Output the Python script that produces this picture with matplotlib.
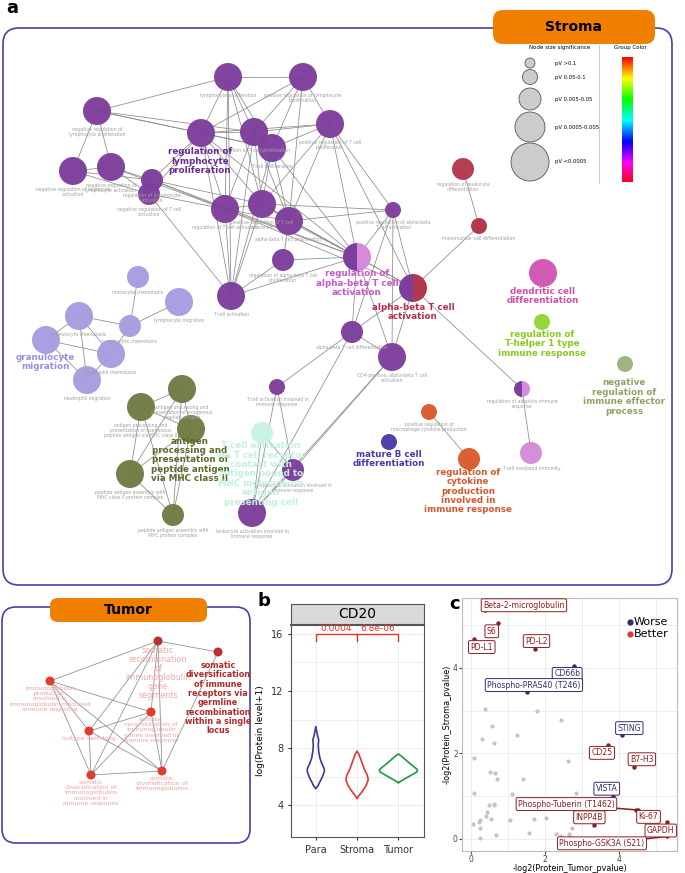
import numpy as np
import matplotlib
matplotlib.use("Agg")
import matplotlib.pyplot as plt
from matplotlib.patches import Circle, Wedge, FancyBboxPatch

plt.rcParams['font.family'] = ['DejaVu Sans']

W, H = 685, 873

# ---------------- panel a: stroma network ----------------
node_names = [
    'lymphocyte proliferation', 'positive regulation of lymphocyte\nproliferation',
    'negative regulation of\nlymphocyte proliferation', '',
    'regulation of T cell proliferation', 'T cell proliferation',
    'positive regulation of T cell\nproliferation', 'negative regulation of leukocyte\nactivation',
    'negative regulation of\nlymphocyte activation', 'regulation of lymphocyte\nactivation',
    'negative regulation of T cell\nactivation', 'regulation of T cell activation',
    'positive regulation of T cell\nactivation', 'alpha-beta T cell proliferation',
    'regulation of alpha-beta T cell\nproliferation', 'T cell activation',
    'positive regulation of alpha-beta\nT cell activation', '', '',
    'alpha-beta T cell differentiation', 'CD4-positive, alpha-beta T cell\nactivation',
    'T cell activation involved in\nimmune response', 'lymphocyte activation involved in\nimmune response',
    'leukocyte activation involved in\nimmune response', 'mononuclear cell differentiation',
    'regulation of leukocyte\ndifferentiation', 'regulation of adaptive immune\nresponse',
    'T cell mediated immunity', 'positive regulation of\nmacrophage cytokine production',
    '', '', '', '', '', '',
    'monocyte chemotaxis', 'lymphocyte migration', 'granulocyte chemotaxis',
    'lymphocyte chemotaxis', '', 'neutrophil chemotaxis', 'neutrophil migration',
    'antigen processing and\npresentation of exogenous\npeptide antigen',
    'antigen processing and\npresentation of exogenous\npeptide antigen via MHC class II',
    '', 'peptide antigen assembly with\nMHC class II protein complex',
    'peptide antigen assembly with\nMHC protein complex',
]
node_x = [228, 303, 97, 201, 254, 272, 330, 73, 111, 152, 149, 225, 262, 289, 283, 231,
          393, 357, 413, 352, 392, 277, 293, 252, 479, 463, 522, 531, 429, 469, 543, 542,
          625, 389, 262,
          138, 179, 79, 130, 46, 111, 87,
          182, 141, 191, 130, 173]
node_y = [77, 77, 111, 133, 132, 148, 124, 171, 167, 180, 194, 209, 204, 221, 260, 296,
          210, 257, 288, 332, 357, 387, 470, 513, 226, 169, 389, 453, 412, 459, 273, 322,
          364, 442, 433,
          277, 302, 316, 326, 340, 354, 380,
          389, 407, 429, 474, 515]
node_r = [14, 14, 14, 14, 14, 14, 14, 14, 14, 11, 11, 14, 14, 14, 11, 14,
          8, 14, 14, 11, 14, 8, 11, 14, 8, 11, 8, 11, 8, 11, 14, 8,
          8, 8, 11,
          11, 14, 14, 11, 14, 14, 14,
          14, 14, 14, 14, 11]
PUR = '#7d3f9d'
node_col = [PUR] * 24 + ['#b3384f'] * 2 + [PUR, '#d48bd9', '#d95a2b', '#d95a2b', '#cf55b2',
            '#93d431', '#9cb27c', '#4b3aa6', '#c8f3e4'] + ['#a79ce0'] * 7 + ['#6f7c44'] * 5
# split nodes: index -> right-half colour
split_right = {17: '#d48bd9', 18: '#b3384f', 24: '#b3384f', 26: '#d48bd9'}

edges = [(0, 1), (0, 3), (0, 4), (0, 11), (0, 12), (0, 5), (1, 3), (1, 5), (1, 6), (1, 4),
         (1, 13), (2, 0), (2, 3), (2, 4), (2, 7), (2, 8), (2, 5), (3, 4), (3, 5), (3, 6),
         (3, 9), (3, 10), (3, 11), (3, 12), (3, 15), (4, 5), (4, 6), (4, 11), (4, 12),
         (4, 13), (4, 15), (5, 6), (5, 12), (5, 13), (5, 15), (5, 17), (6, 12), (6, 13),
         (6, 16), (6, 17), (6, 18), (7, 8), (7, 9), (7, 10), (8, 9), (8, 10), (8, 11),
         (9, 10), (9, 11), (9, 12), (9, 17), (10, 11), (10, 15), (11, 12), (11, 13),
         (11, 15), (11, 17), (12, 13), (12, 15), (12, 16), (12, 17), (13, 14), (13, 16),
         (13, 17), (14, 15), (14, 17), (15, 17), (16, 17), (16, 18), (16, 19), (16, 20),
         (17, 18), (17, 19), (17, 20), (18, 19), (18, 20), (18, 24), (18, 26), (19, 20),
         (19, 21), (19, 23), (20, 23), (21, 22), (21, 23), (22, 23), (22, 20), (24, 25),
         (26, 27), (28, 29), (3, 17), (12, 18), (11, 18), (0, 15), (34, 23), (34, 22),
         (35, 38), (36, 38), (37, 38), (37, 39), (37, 40), (37, 41), (39, 40), (39, 41),
         (40, 41), (38, 40), (42, 43), (42, 44), (42, 45), (43, 44), (43, 45), (43, 46),
         (44, 45), (44, 46), (45, 46), (42, 46)]

bold_text = ['regulation of\nlymphocyte\nproliferation', 'regulation of\nalpha-beta T cell\nactivation',
             'alpha-beta T cell\nactivation', 'dendritic cell\ndifferentiation',
             'regulation of\nT-helper 1 type\nimmune response',
             'negative\nregulation of\nimmune effector\nprocess', 'granulocyte\nmigration',
             'antigen\nprocessing and\npresentation of\npeptide antigen\nvia MHC class II',
             'T cell activation\nvia T cell receptor\ncontact with\nantigen bound to\nMHC molecule on\nantigen\npresenting cell',
             'mature B cell\ndifferentiation',
             'regulation of\ncytokine\nproduction\ninvolved in\nimmune response']
bold_x = [200, 357, 413, 543, 542, 624, 45, 190, 261, 389, 468]
bold_y = [161, 283, 312, 296, 344, 397, 362, 460, 474, 459, 491]
bold_col = ['#6a2a92', '#c957cc', '#b3304f', '#cf4fb0', '#86cc1e', '#8ea466', '#9d8fe0',
            '#5b6a2c', '#c2f1df', '#4b3aa6', '#d9572b']

leg_labels = ['pV >0.1', 'pV 0.05-0.1', 'pV 0.005-0.05', 'pV 0.0005-0.005', 'pV <0.0005']
leg_r = [5, 7.5, 11, 15, 19]
leg_y = [63, 77, 99, 127, 162]

# ---------------- tumor network ----------------
t_names = ['somatic\nrecombination\nof\nimmunoglobulin\ngene\nsegments',
           'somatic\ndiversification\nof immune\nreceptors via\ngermline\nrecombination\nwithin a single\nlocus',
           'immunoglobulin\nproduction\ninvolved in\nimmunoglobulin-mediated\nimmune response',
           'somatic\nrecombination of\nimmunoglobulin\ngenes involved in\nimmune response',
           'isotype switching',
           'somatic\ndiversification of\nimmunoglobulins\ninvolved in\nimmune response',
           'somatic\ndiversification of\nimmunoglobulins']
t_x = [158, 218, 50, 151, 89, 91, 162]
t_y = [641, 652, 681, 712, 731, 775, 771]
t_col = ['#b83232', '#b83232', '#e03c31', '#e03c31', '#e03c31', '#e03c31', '#e03c31']
t_edges = [(0, 2), (0, 1), (0, 4), (0, 3), (0, 6), (0, 5), (2, 3), (2, 4), (2, 5), (2, 6),
           (4, 3), (4, 5), (4, 6), (3, 5), (3, 6), (5, 6), (1, 6)]

# ---------------- panel b: violins ----------------
groups = ['Para', 'Stroma', 'Tumor']
group_col = ['#3b3a98', '#e8352e', '#1f9a45']
para_lvl = [5.2, 5.35, 5.6, 6.0, 6.4, 6.6, 6.9, 7.3, 7.8, 8.2, 8.6, 8.9, 9.2, 9.5]
para_hw = [0.0, 0.05, 0.09, 0.16, 0.21, 0.2, 0.15, 0.1, 0.07, 0.06, 0.07, 0.04, 0.02, 0.0]
str_lvl = [4.5, 4.7, 5.0, 5.4, 5.8, 6.1, 6.5, 6.9, 7.3, 7.6, 7.8]
str_hw = [0.0, 0.05, 0.13, 0.22, 0.27, 0.25, 0.18, 0.13, 0.08, 0.04, 0.0]
tum_lvl = [5.6, 5.8, 6.1, 6.35, 6.5, 6.7, 6.95, 7.2, 7.45, 7.6]
tum_hw = [0.0, 0.12, 0.3, 0.45, 0.46, 0.38, 0.27, 0.17, 0.07, 0.0]
pvals = ['0.0004', '6.8e-06']

# ---------------- panel c: scatter ----------------
gray_x = [0.39, 1.80, 2.43, 0.57, 1.24, 0.30, 0.63, 0.09, 2.64, 0.52, 0.65, 0.70, 1.41, 0.10,
          1.11, 2.84, 0.63, 0.50, 0.63, 0.43, 0.41, 0.55, 0.26, 0.22, 0.05, 0.24, 0.68, 0.25,
          1.06, 1.72, 2.04, 1.59, 2.31, 2.43, 2.67, 2.67, 2.75, 2.68]
gray_y = [3.05, 2.99, 2.79, 2.64, 2.43, 2.33, 2.25, 1.88, 1.83, 1.57, 1.53, 1.40, 1.39, 1.06,
          1.05, 1.07, 0.81, 0.78, 0.79, 0.62, 0.54, 0.47, 0.43, 0.40, 0.35, 0.26, 0.09, 0.02,
          0.43, 0.46, 0.48, 0.14, 0.12, 0.05, 0.11, 0.05, 0.26, 0.03]
prot = ['Beta-2-microglobulin', 'S6', 'PD-L1', 'PD-L2', 'CD66b', 'Phospho-PRAS40 (T246)',
        'STING', 'CD25', 'B7-H3', 'VISTA', 'Ki-67', 'Phospho-Tuberin (T1462)', 'INPP4B',
        'GAPDH', 'Phospho-GSK3A (S21)']
prot_x = [0.39, 0.75, 0.10, 1.73, 2.79, 1.51, 4.10, 3.72, 4.43, 3.86, 4.47, 4.52, 3.33, 5.32, 5.32]
prot_y = [5.36, 5.05, 4.67, 4.45, 4.05, 3.43, 2.42, 2.20, 1.69, 0.99, 0.68, 0.67, 0.31, 0.38, 0.05]
lab_x = [1.44, 0.57, 0.30, 1.78, 2.61, 1.71, 4.29, 3.55, 4.63, 3.68, 4.81, 2.59, 3.21, 5.14, 3.55]
lab_y = [5.47, 4.86, 4.49, 4.63, 3.86, 3.60, 2.59, 2.01, 1.86, 1.17, 0.51, 0.81, 0.50, 0.19, -0.11]
prot_group = ['Better', 'Better', 'Better', 'Better', 'Worse', 'Worse', 'Worse', 'Better',
              'Better', 'Worse', 'Better', 'Better', 'Better', 'Better', 'Better']

fig = plt.figure(figsize=(W / 100, H / 100), dpi=100)
ax = fig.add_axes([0, 0, 1, 1])
ax.set_xlim(0, W)
ax.set_ylim(H, 0)
ax.axis('off')

# frames and badges
ax.add_patch(FancyBboxPatch((3, 28), 669, 557, boxstyle='round,pad=0,rounding_size=16',
                            fc='none', ec='#4a3fa8', lw=1.2))
ax.add_patch(FancyBboxPatch((493, 10), 162, 34, boxstyle='round,pad=0,rounding_size=10',
                            fc='#f07f00', ec='none', zorder=5))
ax.text(574, 27, 'Stroma', ha='center', va='center', fontsize=10, fontweight='bold', zorder=6)
ax.add_patch(FancyBboxPatch((2, 607), 248, 236, boxstyle='round,pad=0,rounding_size=14',
                            fc='none', ec='#4a3fa8', lw=1.2))
ax.add_patch(FancyBboxPatch((50, 598), 157, 24, boxstyle='round,pad=0,rounding_size=8',
                            fc='#f07f00', ec='none', zorder=5))
ax.text(128, 610, 'Tumor', ha='center', va='center', fontsize=10, fontweight='bold', zorder=6)
ax.text(6, 8, 'a', ha='left', va='center', fontsize=13, fontweight='bold')

# network edges
for a, b in edges:
    ax.plot([node_x[a], node_x[b]], [node_y[a], node_y[b]], color='#8a8a8a', lw=0.55, zorder=1)

# nodes
for i in range(len(node_x)):
    if i in split_right:
        ax.add_patch(Wedge((node_x[i], node_y[i]), node_r[i], 90, 270, fc=node_col[i], ec='none', zorder=2))
        ax.add_patch(Wedge((node_x[i], node_y[i]), node_r[i], -90, 90, fc=split_right[i], ec='none', zorder=2))
    else:
        ax.add_patch(Circle((node_x[i], node_y[i]), node_r[i], fc=node_col[i], ec='none', zorder=2, alpha=0.97))
    if node_names[i]:
        ax.text(node_x[i], node_y[i] + node_r[i] + 2, node_names[i], ha='center', va='top',
                fontsize=3.3, color='#a0a0a0', linespacing=1.0, zorder=3)

for t, x, y, c in zip(bold_text, bold_x, bold_y, bold_col):
    ax.text(x, y, t, ha='center', va='center', fontsize=6.3, fontweight='bold', color=c,
            linespacing=1.05, zorder=4)

# legend
ax.text(560, 47, 'Node size significance', ha='center', va='center', fontsize=4)
ax.text(630, 47, 'Group Color', ha='center', va='center', fontsize=4)
ax.plot([599, 599], [45, 183], color='#cccccc', lw=0.8)
for lab, r, y in zip(leg_labels, leg_r, leg_y):
    ax.add_patch(Circle((530, y), r, fc='#cccccc', ec='#555555', lw=0.6))
    ax.text(555, y, lab, ha='left', va='center', fontsize=3.8)
grad = np.linspace(0, 0.96, 200).reshape(-1, 1)
ax.imshow(grad, cmap='hsv', extent=(622, 633, 182, 57), aspect='auto', zorder=2)

# tumor network
for a, b in t_edges:
    ax.plot([t_x[a], t_x[b]], [t_y[a], t_y[b]], color='#8a8a8a', lw=0.55, zorder=1)
for i in range(len(t_x)):
    ax.add_patch(Circle((t_x[i], t_y[i]), 4.5, fc=t_col[i], ec='none', zorder=2))
    if i == 1:
        ax.text(t_x[i], t_y[i] + 9, t_names[i], ha='center', va='top', fontsize=5.8,
                fontweight='bold', color='#b02a2a', linespacing=1.05, zorder=3)
    elif i == 0:
        ax.text(t_x[i], t_y[i] + 5, t_names[i], ha='center', va='top', fontsize=5.8,
                color='#f5a8a8', linespacing=1.0, zorder=3)
    else:
        ax.text(t_x[i], t_y[i] + 5, t_names[i], ha='center', va='top', fontsize=4.4,
                color='#f5a0a0', linespacing=1.05, zorder=3)

# ---------------- panel b ----------------
def px_axes(x0, y0, x1, y1):
    return fig.add_axes([x0 / W, 1 - y1 / H, (x1 - x0) / W, (y1 - y0) / H])

ax.text(258, 601, 'b', ha='left', va='center', fontsize=13, fontweight='bold')
axs = px_axes(291, 604, 424, 625)
axs.set_facecolor('#d9d9d9')
axs.set_xticks([])
axs.set_yticks([])
for s in axs.spines.values():
    s.set_color('#555555')
axs.spines['bottom'].set_linewidth(1.5)
axs.text(0.5, 0.5, 'CD20', ha='center', va='center', fontsize=10, transform=axs.transAxes)

axb = px_axes(291, 625, 424, 837)
profiles = [(para_lvl, para_hw), (str_lvl, str_hw), (tum_lvl, tum_hw)]
for k, (lvl, hw) in enumerate(profiles):
    lvl = np.array(lvl)
    hw = np.array(hw)
    xs = np.concatenate([k + 1 - hw, (k + 1 + hw)[::-1]])
    ys = np.concatenate([lvl, lvl[::-1]])
    axb.plot(xs, ys, color=group_col[k], lw=1.2)
axb.set_xlim(0.4, 3.62)
axb.set_ylim(1.8, 16.6)
axb.set_yticks([4, 8, 12, 16])
axb.set_yticks([6, 10, 14], minor=True)
axb.set_xticks([1, 2, 3])
axb.set_xticklabels(groups)
axb.grid(True, which='both', color='#ebebeb', lw=0.6)
axb.set_axisbelow(True)
axb.tick_params(labelsize=7, length=2, colors='#333333')
axb.tick_params(which='minor', length=0)
axb.set_ylabel('log(Protein level+1)', fontsize=6.5)
for s in axb.spines.values():
    s.set_color('#555555')
br = '#e8322d'
axb.plot([1, 1, 3, 3], [15.5, 16.0, 16.0, 15.5], color=br, lw=1)
axb.plot([2, 2], [16.0, 15.5], color=br, lw=1)
axb.text(1.5, 16.05, pvals[0], ha='center', va='bottom', fontsize=6.5, color=br)
axb.text(2.5, 16.05, pvals[1], ha='center', va='bottom', fontsize=6.5, color=br)

# ---------------- panel c ----------------
ax.text(449, 604, 'c', ha='left', va='center', fontsize=13, fontweight='bold')
axc = px_axes(462, 598, 677, 851)
axc.scatter(gray_x, gray_y, s=9, color='#c4c4c4', zorder=2, lw=0)
better_c, worse_c = '#8d1c1f', '#2d2f6f'
for i, name in enumerate(prot):
    c = better_c if prot_group[i] == 'Better' else worse_c
    axc.scatter(prot_x[i], prot_y[i], s=10, color=c, zorder=3, lw=0)
    if name in ('Phospho-Tuberin (T1462)', 'Phospho-GSK3A (S21)'):
        axc.plot([lab_x[i], prot_x[i]], [lab_y[i], prot_y[i]], color=c, lw=1.1, zorder=2)
    axc.text(lab_x[i], lab_y[i], name, ha='center', va='center', fontsize=5.6, color=c, zorder=4,
             bbox=dict(boxstyle='round,pad=0.25,rounding_size=0.2', fc='white', ec=c, lw=0.7))
axc.scatter([4.3], [5.08], s=12, color='#2d2f6f', zorder=3)
axc.scatter([4.3], [4.80], s=12, color='#e0392b', zorder=3)
axc.text(4.42, 5.08, 'Worse', ha='left', va='center', fontsize=8)
axc.text(4.42, 4.80, 'Better', ha='left', va='center', fontsize=8)
axc.set_xlim(-0.235, 5.58)
axc.set_ylim(-0.29, 5.64)
axc.set_xticks([0, 2, 4])
axc.set_yticks([0, 2, 4])
axc.set_xticks([1, 3, 5], minor=True)
axc.set_yticks([1, 3, 5], minor=True)
axc.grid(True, which='both', color='#ebebeb', lw=0.6)
axc.set_axisbelow(True)
axc.tick_params(labelsize=5.5, length=2, pad=1, colors='#444444')
axc.tick_params(which='minor', length=0)
axc.set_xlabel('-log2(Protein_Tumor_pvalue)', fontsize=5.8, labelpad=0)
axc.set_ylabel('-log2(Protein_Stroma_pvalue)', fontsize=5.8, labelpad=1)
for s in axc.spines.values():
    s.set_color('#bbbbbb')

fig.savefig('out.png', dpi=100)
